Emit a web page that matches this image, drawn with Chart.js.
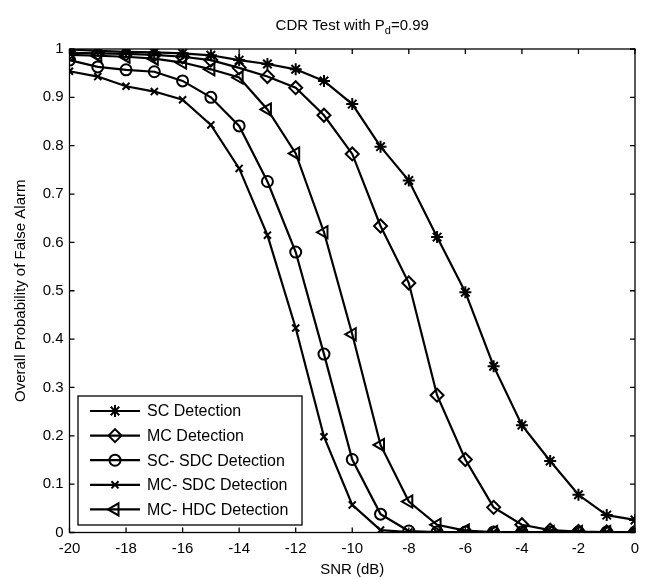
<!DOCTYPE html>
<html>
<head>
<meta charset="utf-8">
<script src="https://cdn.jsdelivr.net/npm/chart.js@4.4.1/dist/chart.umd.min.js"></script>
<style>
  html, body { margin: 0; padding: 0; background: #fff; }
  #wrap { width: 649px; height: 579px; }
</style>
</head>
<body>
<div id="wrap"><canvas id="cdr" width="649" height="579"></canvas></div>
<script>
// ── data ──
const snr = [-20, -19, -18, -17, -16, -15, -14, -13, -12, -11, -10, -9, -8, -7, -6, -5, -4, -3, -2, -1, 0];

const scDetection    = [0.999, 0.996, 0.994, 0.993, 0.991, 0.987, 0.977, 0.969, 0.958, 0.934, 0.886, 0.798, 0.728, 0.611, 0.497, 0.344, 0.222, 0.148, 0.078, 0.036, 0.026];
const mcDetection    = [0.992, 0.991, 0.990, 0.988, 0.984, 0.977, 0.961, 0.943, 0.920, 0.863, 0.783, 0.634, 0.516, 0.284, 0.151, 0.052, 0.016, 0.005, 0.002, 0.001, 0.001];
const scSdcDetection = [0.977, 0.963, 0.957, 0.953, 0.934, 0.900, 0.841, 0.726, 0.580, 0.369, 0.151, 0.038, 0.003, 0.001, 0.001, 0.001, 0.001, 0.001, 0.001, 0.001, 0.001];
const mcSdcDetection = [0.954, 0.943, 0.923, 0.912, 0.895, 0.843, 0.753, 0.615, 0.423, 0.198, 0.057, 0.005, 0.001, 0.001, 0.001, 0.001, 0.001, 0.001, 0.001, 0.001, 0.001];
const mcHdcDetection = [0.988, 0.986, 0.984, 0.980, 0.972, 0.958, 0.941, 0.875, 0.784, 0.621, 0.410, 0.181, 0.064, 0.016, 0.004, 0.001, 0.001, 0.001, 0.001, 0.001, 0.001];

const seriesLabels = ['SC Detection', 'MC Detection', 'SC- SDC Detection', 'MC- SDC Detection', 'MC- HDC Detection'];

const FONT = '"Liberation Sans", Arial, sans-serif';

// marker for each curve (matlab * d o x <)
const MARKERS = [
  { style: 'star',     rotation: 0,   radius: 6 },
  { style: 'rectRot',  rotation: 0,   radius: 6.5 },
  { style: 'circle',   rotation: 0,   radius: 5.5 },
  { style: 'crossRot', rotation: 0,   radius: 5 },
  { style: 'triangle', rotation: -90, radius: 7 }
];

const values = [scDetection, mcDetection, scSdcDetection, mcSdcDetection, mcHdcDetection];

const datasets = values.map((vals, i) => ({
  label: seriesLabels[i],
  data: snr.map((x, j) => ({ x, y: vals[j] })),
  borderColor: '#000',
  borderWidth: 2.2,
  pointStyle: MARKERS[i].style,
  pointRotation: MARKERS[i].rotation,
  pointRadius: MARKERS[i].radius,
  pointBorderWidth: 2,
  pointBorderColor: '#000',
  pointBackgroundColor: 'rgba(0,0,0,0)',
  tension: 0,
  fill: false
}));

// ── box round the axes, with inward ticks on all four sides ──
const axesBox = {
  id: 'axesBox',
  beforeDatasetsDraw(chart) {
    const { ctx, chartArea: a, scales: { x, y } } = chart;
    ctx.save();
    ctx.strokeStyle = '#000';
    ctx.lineWidth = 1.3;
    ctx.strokeRect(a.left, a.top, a.right - a.left, a.bottom - a.top);
    ctx.beginPath();
    x.ticks.forEach(t => {
      const px = x.getPixelForValue(t.value);
      ctx.moveTo(px, a.bottom); ctx.lineTo(px, a.bottom - 5);
      ctx.moveTo(px, a.top);    ctx.lineTo(px, a.top + 5);
    });
    y.ticks.forEach(t => {
      const py = y.getPixelForValue(t.value);
      ctx.moveTo(a.left, py);  ctx.lineTo(a.left + 5, py);
      ctx.moveTo(a.right, py); ctx.lineTo(a.right - 5, py);
    });
    ctx.stroke();
    ctx.restore();
  }
};

// ── title with subscript ──
const titleSub = {
  id: 'titleSub',
  afterDraw(chart) {
    const { ctx, chartArea: a } = chart;
    const cx = (a.left + a.right) / 2;
    const main = 'CDR Test with P', sub = 'd', tail = '=0.99';
    ctx.save();
    ctx.fillStyle = '#000';
    ctx.textBaseline = 'alphabetic';
    ctx.font = '15px ' + FONT;
    const wMain = ctx.measureText(main).width;
    const wTail = ctx.measureText(tail).width;
    ctx.font = '11px ' + FONT;
    const wSub = ctx.measureText(sub).width;
    let x0 = cx - (wMain + wSub + wTail) / 2;
    const base = 30;
    ctx.font = '15px ' + FONT;
    ctx.fillText(main, x0, base);
    x0 += wMain;
    ctx.font = '11px ' + FONT;
    ctx.fillText(sub, x0, base + 4);
    x0 += wSub;
    ctx.font = '15px ' + FONT;
    ctx.fillText(tail, x0, base);
    ctx.restore();
  }
};

// ── matlab style legend box (line sample + marker) ──
const legendBox = {
  id: 'legendBox',
  afterDatasetsDraw(chart) {
    const { ctx } = chart;
    const box = { left: 78, top: 396, right: 302, bottom: 525 };
    const rowY0 = 411, rowGap = 24.6;
    ctx.save();
    ctx.fillStyle = '#fff';
    ctx.fillRect(box.left, box.top, box.right - box.left, box.bottom - box.top);
    ctx.strokeStyle = '#000';
    ctx.lineWidth = 1.3;
    ctx.strokeRect(box.left, box.top, box.right - box.left, box.bottom - box.top);
    chart.data.datasets.forEach((ds, i) => {
      const yy = rowY0 + i * rowGap;
      ctx.strokeStyle = '#000';
      ctx.lineWidth = ds.borderWidth;
      ctx.beginPath();
      ctx.moveTo(90, yy); ctx.lineTo(140, yy);
      ctx.stroke();
      ctx.fillStyle = 'rgba(0,0,0,0)';
      ctx.lineWidth = ds.pointBorderWidth;
      Chart.helpers.drawPoint(ctx, {
        pointStyle: ds.pointStyle,
        rotation: ds.pointRotation,
        radius: ds.pointRadius,
        borderWidth: ds.pointBorderWidth
      }, 115, yy);
      ctx.fillStyle = '#000';
      ctx.font = '16px ' + FONT;
      ctx.textBaseline = 'middle';
      ctx.textAlign = 'left';
      ctx.fillText(ds.label, 147, yy + 1);
    });
    ctx.restore();
  }
};

new Chart(document.getElementById('cdr').getContext('2d'), {
  type: 'line',
  data: { datasets },
  options: {
    responsive: false,
    animation: false,
    devicePixelRatio: 1,
    layout: { padding: { left: 0, top: 49, right: 14, bottom: 0 } },
    plugins: {
      legend: { display: false },
      title: { display: false },
      tooltip: { enabled: false }
    },
    scales: {
      x: {
        type: 'linear',
        min: -20,
        max: 0,
        ticks: { stepSize: 2, color: '#000', padding: 7, maxRotation: 0, font: { family: FONT, size: 15 } },
        grid: { display: false, drawTicks: false },
        border: { display: false },
        title: { display: true, text: 'SNR (dB)', color: '#000', padding: { top: 0, bottom: 0 }, font: { family: FONT, size: 15 } },
        afterFit(scale) { scale.height = 46.5; }
      },
      y: {
        min: 0,
        max: 1,
        ticks: { stepSize: 0.1, color: '#000', padding: 6, font: { family: FONT, size: 15 },
                 callback: v => String(+v.toFixed(1)) },
        grid: { display: false, drawTicks: false },
        border: { display: false },
        title: { display: true, text: 'Overall Probability of False Alarm', color: '#000', padding: { top: 12, bottom: 0 }, font: { family: FONT, size: 15 } },
        afterFit(scale) { scale.width = 69.5; }
      }
    }
  },
  plugins: [axesBox, titleSub, legendBox]
});
</script>
</body>
</html>
